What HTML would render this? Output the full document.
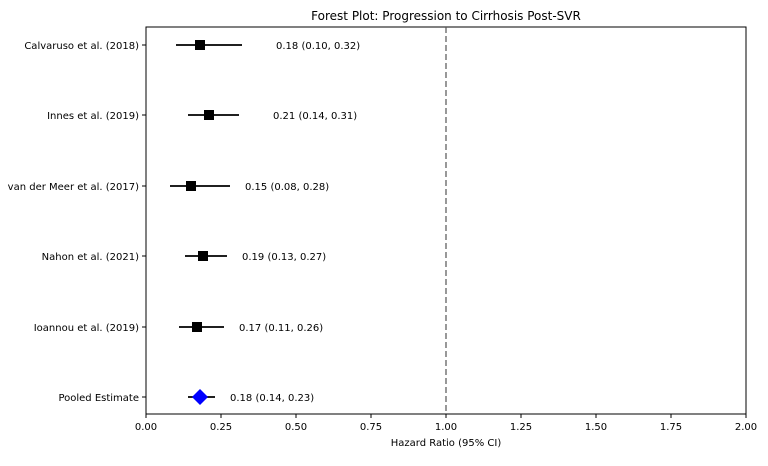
<!DOCTYPE html>
<html><head><style>body{margin:0;background:#fff}</style></head><body>
<svg width="768" height="461" xmlns="http://www.w3.org/2000/svg" font-family="DejaVu Sans, sans-serif" font-size="10">
<text x="446" y="20" text-anchor="middle" font-size="12">Forest Plot: Progression to Cirrhosis Post-SVR</text>
<rect x="146" y="27" width="600" height="387" fill="none" stroke="#000" stroke-width="1"/>
<line x1="446" y1="27" x2="446" y2="414" stroke="#555" stroke-dasharray="6,3" stroke-width="1.2"/>
<g stroke="#000" stroke-width="1">
<line x1="146" y1="414" x2="146" y2="418"/><line x1="221" y1="414" x2="221" y2="418"/><line x1="296" y1="414" x2="296" y2="418"/><line x1="371" y1="414" x2="371" y2="418"/><line x1="446" y1="414" x2="446" y2="418"/><line x1="521" y1="414" x2="521" y2="418"/><line x1="596" y1="414" x2="596" y2="418"/><line x1="671" y1="414" x2="671" y2="418"/><line x1="746" y1="414" x2="746" y2="418"/>
<line x1="142" y1="45" x2="146" y2="45"/><line x1="142" y1="115" x2="146" y2="115"/><line x1="142" y1="186" x2="146" y2="186"/><line x1="142" y1="256" x2="146" y2="256"/><line x1="142" y1="327" x2="146" y2="327"/><line x1="142" y1="397" x2="146" y2="397"/>
</g>
<g text-anchor="middle">
<text x="146" y="430">0.00</text><text x="221" y="430">0.25</text><text x="296" y="430">0.50</text><text x="371" y="430">0.75</text><text x="446" y="430">1.00</text><text x="521" y="430">1.25</text><text x="596" y="430">1.50</text><text x="671" y="430">1.75</text><text x="746" y="430">2.00</text>
<text x="446" y="446">Hazard Ratio (95% CI)</text>
</g>
<g text-anchor="end">
<text x="139" y="49">Calvaruso et al. (2018)</text>
<text x="139" y="119">Innes et al. (2019)</text>
<text x="139" y="190">van der Meer et al. (2017)</text>
<text x="139" y="260">Nahon et al. (2021)</text>
<text x="139" y="331">Ioannou et al. (2019)</text>
<text x="139" y="401">Pooled Estimate</text>
</g>
<g stroke="#000" stroke-width="1.8">
<line x1="176" y1="45" x2="242" y2="45"/>
<line x1="188" y1="115" x2="239" y2="115"/>
<line x1="170" y1="186" x2="230" y2="186"/>
<line x1="185" y1="256" x2="227" y2="256"/>
<line x1="179" y1="327" x2="224" y2="327"/>
<line x1="188" y1="397" x2="215" y2="397"/>
</g>
<g fill="#000">
<rect x="195" y="40" width="10" height="10"/>
<rect x="204" y="110" width="10" height="10"/>
<rect x="186" y="181" width="10" height="10"/>
<rect x="198" y="251" width="10" height="10"/>
<rect x="192" y="322" width="10" height="10"/>
</g>
<polygon points="200,389 208,397 200,405 192,397" fill="#0000ff"/>
<g>
<text x="276" y="49">0.18 (0.10, 0.32)</text>
<text x="273" y="119">0.21 (0.14, 0.31)</text>
<text x="245" y="190">0.15 (0.08, 0.28)</text>
<text x="242" y="260">0.19 (0.13, 0.27)</text>
<text x="239" y="331">0.17 (0.11, 0.26)</text>
<text x="230" y="401">0.18 (0.14, 0.23)</text>
</g>
</svg>
</body></html>
